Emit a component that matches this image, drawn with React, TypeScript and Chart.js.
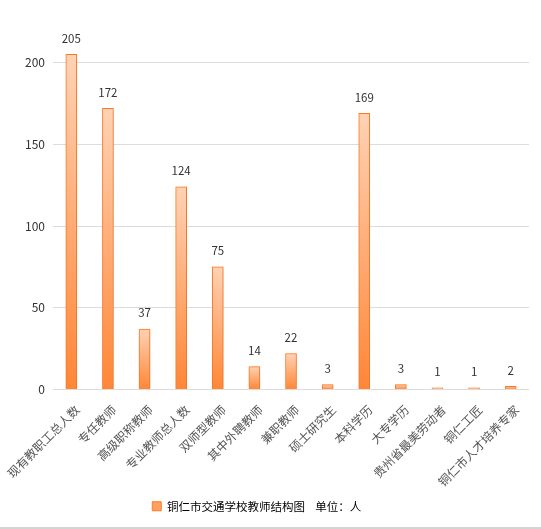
import { useEffect, useRef } from 'react';
import { Chart } from 'chart.js/auto';

const categories = [
  '现有教职工总人数',
  '专任教师',
  '高级职称教师',
  '专业教师总人数',
  '双师型教师',
  '其中外聘教师',
  '兼职教师',
  '硕士研究生',
  '本科学历',
  '大专学历',
  '贵州省最美劳动者',
  '铜仁工匠',
  '铜仁市人才培养专家',
];
const teacherCounts = [205, 172, 37, 124, 75, 14, 22, 3, 169, 3, 1, 1, 2];
const yTickValues = [0, 50, 100, 150, 200];
const seriesLabel = '铜仁市交通学校教师结构图    单位：人';

const FONT = "'Microsoft YaHei', 'Noto Sans CJK SC', sans-serif";

// soft shadow behind the bars, like the original export
const shadowPlugin = {
  id: 'barShadow',
  beforeDatasetsDraw(chart) {
    const ctx = chart.ctx;
    ctx.save();
    ctx.shadowColor = 'rgba(190, 110, 70, 0.35)';
    ctx.shadowBlur = 6;
    ctx.shadowOffsetX = 3;
    ctx.shadowOffsetY = 1;
  },
  afterDatasetsDraw(chart) {
    chart.ctx.restore();
  },
};

// value labels above each bar
const valueLabelPlugin = {
  id: 'valueLabels',
  afterDraw(chart) {
    const ctx = chart.ctx;
    const meta = chart.getDatasetMeta(0);
    ctx.save();
    ctx.font = `11.5px ${FONT}`;
    ctx.fillStyle = '#333';
    ctx.textAlign = 'center';
    ctx.textBaseline = 'middle';
    meta.data.forEach((bar, i) => {
      ctx.fillText(String(teacherCounts[i]), bar.x, bar.y - 16);
    });
    ctx.restore();
  },
};

export default function App() {
  const chartRef = useRef(null);

  useEffect(() => {
    document.body.style.margin = '0';
    if (!chartRef.current) return;
    const ctx = chartRef.current.getContext('2d');
    if (!ctx) return;

    const chart = new Chart(ctx, {
      type: 'bar',
      data: {
        labels: categories,
        datasets: [
          {
            label: seriesLabel,
            data: teacherCounts,
            barThickness: 11,
            borderWidth: 1,
            borderColor: '#FF7A22',
            backgroundColor: (c) => {
              const ch = c.chart;
              const y = ch.scales?.y;
              if (!y || c.type !== 'data') return '#FFA266';
              const top = y.getPixelForValue(teacherCounts[c.dataIndex]);
              const base = y.getPixelForValue(0);
              if (!isFinite(top) || !isFinite(base) || top === base) return '#FFA266';
              const g = ch.ctx.createLinearGradient(0, top, 0, base);
              g.addColorStop(0, '#FFD2B4');
              g.addColorStop(1, '#FF8636');
              return g;
            },
          },
        ],
      },
      options: {
        responsive: false,
        animation: false,
        maintainAspectRatio: false,
        layout: { padding: { left: 0, right: 12, top: 0, bottom: 5 } },
        scales: {
          x: {
            grid: { display: false },
            border: { display: false },
            ticks: {
              minRotation: 45,
              maxRotation: 45,
              autoSkip: false,
              color: '#555',
              font: { size: 12, family: FONT },
              padding: 5,
              labelOffset: 6,
            },
            afterFit: (scale) => {
              scale.height = 101;
              scale.paddingLeft = 0;
              scale.paddingRight = 0;
            },
          },
          y: {
            min: 0,
            max: 229,
            afterBuildTicks: (scale) => {
              scale.ticks = yTickValues.map((v) => ({ value: v }));
            },
            grid: { color: '#dcdcdc', drawTicks: false, lineWidth: 1 },
            border: { display: false },
            ticks: {
              color: '#333',
              font: { size: 12, family: FONT },
              padding: 8,
            },
            afterFit: (scale) => {
              scale.width = 53;
            },
          },
        },
        plugins: {
          tooltip: { enabled: false },
          legend: {
            position: 'bottom',
            labels: {
              color: '#333',
              font: { size: 11.5, family: FONT },
              boxWidth: 9,
              boxHeight: 9,
              padding: 10,
              generateLabels: () => [
                {
                  // trailing spaces nudge the centred legend a little to the left
                  text: seriesLabel + '      ',
                  fillStyle: '#FFA062',
                  strokeStyle: '#FF7A22',
                  lineWidth: 1,
                  datasetIndex: 0,
                },
              ],
            },
          },
        },
      },
      plugins: [shadowPlugin, valueLabelPlugin],
    });

    return () => {
      chart.destroy();
    };
  }, []);

  return (
    <div style={{ width: 541, height: 529, position: 'relative', background: '#fff' }}>
      <canvas ref={chartRef} width={541} height={527} style={{ display: 'block' }} />
      <div style={{ height: 2, background: '#d4d4d4' }} />
    </div>
  );
}
